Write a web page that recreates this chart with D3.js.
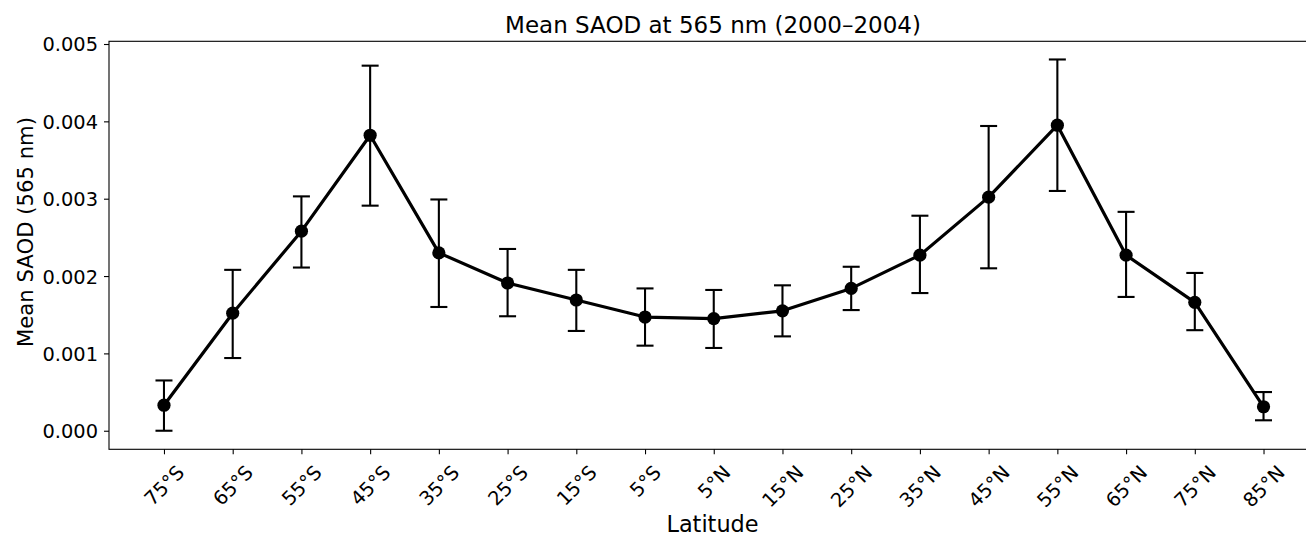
<!DOCTYPE html>
<head>
	<script src="https://d3js.org/d3.v7.min.js"></script>
	<style>
		body { margin: 0; background: #fff; }
		svg { display: block; }
		text { font-family: "DejaVu Sans", sans-serif; fill: #000; }
		.tick text { font-size: 19.4px; }
		.title { font-size: 23px; }
		.xlabel { font-size: 22.4px; }
		.ylabel { font-size: 21.2px; }
	</style>
</head>
<body>
	<script>
		// data
		var latitudes = ["75°S", "65°S", "55°S", "45°S", "35°S", "25°S", "15°S", "5°S", "5°N",
			"15°N", "25°N", "35°N", "45°N", "55°N", "65°N", "75°N", "85°N"];
		var meanSaod = [0.00033, 0.00152, 0.00258, 0.00382, 0.00230, 0.00191, 0.00169, 0.00147, 0.00145,
			0.00155, 0.00184, 0.00227, 0.00302, 0.00395, 0.00227, 0.00166, 0.00031];
		var lowerSaod = [0.00000, 0.00094, 0.00211, 0.00291, 0.00160, 0.00148, 0.00129, 0.00110, 0.00107,
			0.00122, 0.00156, 0.00178, 0.00210, 0.00310, 0.00173, 0.00130, 0.000135];
		var upperSaod = [0.00065, 0.00208, 0.00303, 0.00472, 0.00299, 0.00235, 0.00208, 0.00184, 0.00182,
			0.00188, 0.00212, 0.00278, 0.00394, 0.00480, 0.00283, 0.00204, 0.00050];
		var yTicks = [0, 0.001, 0.002, 0.003, 0.004, 0.005];

		var width = 1306;
		var height = 535;
		var plot = { left: 109, right: 1318.5, top: 41.3, bottom: 449.3 };

		var data = latitudes.map(function(d, i) {
			return { lat: d, mean: meanSaod[i], lo: lowerSaod[i], hi: upperSaod[i] };
		});

		// scales
		var xScale = d3.scalePoint()
			.domain(latitudes)
			.range([plot.left, plot.right])
			.padding(0.8);

		var yScale = d3.scaleLinear()
			.domain([-0.00024, 0.005035])
			.range([plot.bottom, plot.top]);

		var svg = d3.select("body")
			.append("svg")
			.attr("width", width)
			.attr("height", height);

		// frame
		svg.append("rect")
			.attr("x", plot.left)
			.attr("y", plot.top)
			.attr("width", plot.right - plot.left)
			.attr("height", plot.bottom - plot.top)
			.attr("fill", "none")
			.attr("stroke", "#000")
			.attr("stroke-width", 1.1);

		// axes
		var axisX = svg.append("g")
			.attr("transform", "translate(0," + plot.bottom + ")")
			.call(d3.axisBottom(xScale).tickSize(5).tickSizeOuter(0));
		var axisY = svg.append("g")
			.attr("transform", "translate(" + plot.left + ",0)")
			.call(d3.axisLeft(yScale).tickValues(yTicks).tickFormat(d3.format(".3f")).tickSize(5).tickPadding(6));

		[axisX, axisY].forEach(function(a) {
			a.select(".domain").remove();
			a.selectAll(".tick line").attr("stroke", "#000").attr("stroke-width", 1.1);
			a.selectAll(".tick text").attr("fill", "#000").attr("font-family", null).attr("font-size", null);
		});
		axisY.selectAll(".tick text").attr("dy", "0.36em");

		// rotated latitude labels, bbox centred on the tick
		axisX.selectAll(".tick text")
			.attr("y", null)
			.attr("dy", null)
			.attr("text-anchor", "middle")
			.attr("dominant-baseline", "central")
			.attr("transform", function() {
				var w = this.getComputedTextLength();
				var half = (w / 2 + 7) * Math.SQRT1_2;
				return "translate(0," + (15 + half) + ") rotate(-45)";
			});

		// error bars
		var cap = 8.5;
		var bars = svg.append("g")
			.attr("stroke", "#000")
			.attr("stroke-width", 2.1);
		bars.selectAll(".stem")
			.data(data)
			.enter()
			.append("line")
			.attr("x1", function(d) { return xScale(d.lat); })
			.attr("x2", function(d) { return xScale(d.lat); })
			.attr("y1", function(d) { return yScale(d.lo); })
			.attr("y2", function(d) { return yScale(d.hi); });
		bars.selectAll(".capLo")
			.data(data)
			.enter()
			.append("line")
			.attr("x1", function(d) { return xScale(d.lat) - cap; })
			.attr("x2", function(d) { return xScale(d.lat) + cap; })
			.attr("y1", function(d) { return yScale(d.lo); })
			.attr("y2", function(d) { return yScale(d.lo); });
		bars.selectAll(".capHi")
			.data(data)
			.enter()
			.append("line")
			.attr("x1", function(d) { return xScale(d.lat) - cap; })
			.attr("x2", function(d) { return xScale(d.lat) + cap; })
			.attr("y1", function(d) { return yScale(d.hi); })
			.attr("y2", function(d) { return yScale(d.hi); });

		// line + markers
		var line = d3.line()
			.x(function(d) { return xScale(d.lat); })
			.y(function(d) { return yScale(d.mean); });
		svg.append("path")
			.datum(data)
			.attr("d", line)
			.attr("fill", "none")
			.attr("stroke", "#000")
			.attr("stroke-width", 3.2)
			.attr("stroke-linejoin", "round");
		svg.selectAll(".dot")
			.data(data)
			.enter()
			.append("circle")
			.attr("cx", function(d) { return xScale(d.lat); })
			.attr("cy", function(d) { return yScale(d.mean); })
			.attr("r", 6.6)
			.attr("fill", "#000");

		// titles
		svg.append("text")
			.attr("class", "title")
			.attr("x", 713)
			.attr("y", 33)
			.attr("text-anchor", "middle")
			.text("Mean SAOD at 565 nm (2000–2004)");
		svg.append("text")
			.attr("class", "xlabel")
			.attr("x", 712.5)
			.attr("y", 532)
			.attr("text-anchor", "middle")
			.text("Latitude");
		svg.append("text")
			.attr("class", "ylabel")
			.attr("transform", "translate(33,232) rotate(-90)")
			.attr("text-anchor", "middle")
			.text("Mean SAOD (565 nm)");
	</script>
</body>
</html>
